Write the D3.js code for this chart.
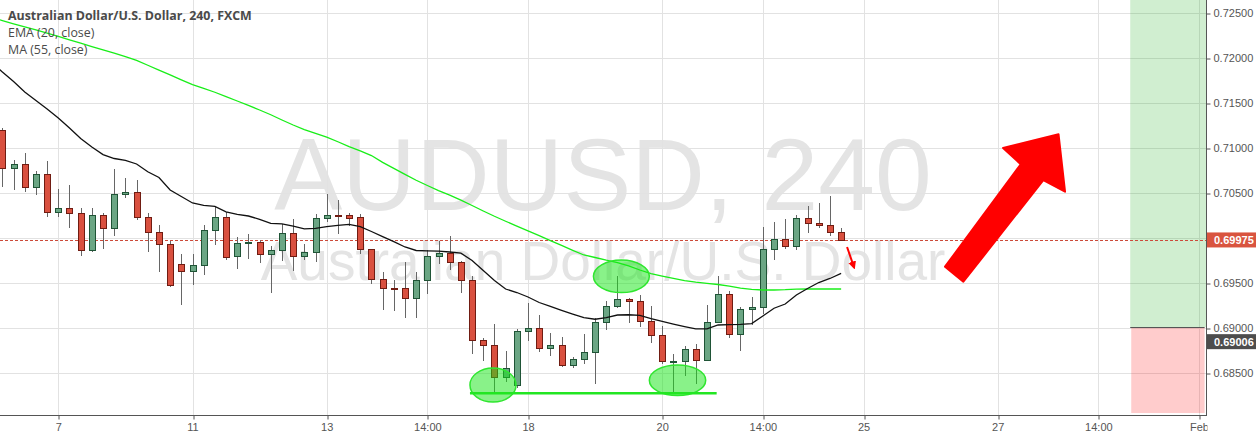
<!DOCTYPE html>
<html><head><meta charset="utf-8">
<script src="https://cdn.jsdelivr.net/npm/d3@7"></script>
<style>html,body{margin:0;padding:0;background:#fff;overflow:hidden}</style>
</head><body><svg id="c" width="1256" height="434"></svg>
<script>
// ---------- DATA ----------
const opens  = [0.71197,0.70771,0.70819,0.7056,0.70708,0.70282,0.70327,0.70271,0.6986,0.70249,0.70104,0.70482,0.70508,0.70227,0.7006,0.69927,0.69704,0.69627,0.69693,0.70082,0.7023,0.69793,0.69938,0.69952,0.69816,0.6986,0.70049,0.69793,0.69838,0.70216,0.70252,0.70252,0.70227,0.69871,0.69538,0.69441,0.69438,0.69327,0.69527,0.69793,0.69827,0.69727,0.69527,0.6886,0.68804,0.68449,0.6836,0.6896,0.68993,0.68771,0.68804,0.68582,0.68649,0.68727,0.6906,0.69238,0.69316,0.69293,0.69071,0.68916,0.68619,0.68627,0.6876,0.68638,0.6906,0.69371,0.68927,0.69204,0.69227,0.69871,0.69982,0.69904,0.70216,0.7016,0.70138,0.7006];
const highs  = [0.71219,0.70863,0.70941,0.70741,0.70852,0.70541,0.70586,0.70327,0.70327,0.70271,0.70763,0.70663,0.70641,0.70274,0.70141,0.69963,0.69819,0.69819,0.70141,0.70338,0.70289,0.70004,0.70041,0.69974,0.69904,0.70156,0.70208,0.69927,0.70267,0.70486,0.70416,0.70274,0.70263,0.69871,0.69622,0.6953,0.6973,0.69616,0.69863,0.6996,0.70019,0.69741,0.69578,0.68889,0.69038,0.68741,0.68986,0.69271,0.69138,0.68938,0.68897,0.68671,0.68927,0.69104,0.69297,0.69574,0.6933,0.6936,0.69238,0.69016,0.68704,0.68793,0.68824,0.6925,0.69574,0.69404,0.69227,0.69338,0.70116,0.70174,0.70208,0.70256,0.70352,0.70386,0.70463,0.70108];
const lows   = [0.70578,0.70541,0.70522,0.70489,0.70244,0.70244,0.70122,0.69811,0.69852,0.69889,0.70033,0.70456,0.70204,0.69856,0.69633,0.69463,0.69267,0.69489,0.696,0.69933,0.69763,0.69667,0.69778,0.69733,0.694,0.69756,0.69638,0.69767,0.69744,0.70186,0.70056,0.70141,0.69833,0.69493,0.69204,0.69197,0.69116,0.69122,0.69382,0.69719,0.69652,0.69393,0.68716,0.68644,0.68271,0.68411,0.68338,0.68863,0.68744,0.68697,0.68574,0.6856,0.68604,0.68389,0.68989,0.6923,0.69067,0.69016,0.68838,0.68604,0.68271,0.68471,0.68386,0.68638,0.6906,0.68897,0.68756,0.69038,0.6916,0.6976,0.69882,0.69871,0.70067,0.70116,0.70027,0.69975];
const closes = [0.70771,0.70819,0.7056,0.70708,0.70282,0.70327,0.70271,0.6986,0.70249,0.70104,0.70482,0.70508,0.70227,0.7006,0.69927,0.69471,0.69627,0.69693,0.70082,0.70227,0.69789,0.69938,0.69952,0.69816,0.6986,0.70049,0.69793,0.69838,0.70216,0.70249,0.70244,0.70222,0.69871,0.69538,0.69438,0.69433,0.69327,0.69527,0.69793,0.69827,0.69727,0.69527,0.6886,0.68804,0.68449,0.68549,0.6896,0.68993,0.68771,0.68804,0.68582,0.68649,0.68727,0.6906,0.69238,0.69316,0.69293,0.69071,0.68916,0.68627,0.68627,0.6876,0.68638,0.6906,0.69371,0.68927,0.69204,0.69227,0.69871,0.69982,0.69904,0.70216,0.7016,0.70138,0.7006,0.69975];
// indicator values, one per bar starting at bar index -1
const ema20 = [0.71952,0.71841,0.71736,0.71619,0.71524,0.7143,0.7133,0.71219,0.71102,0.71008,0.70924,0.7088,0.70858,0.70819,0.70733,0.70669,0.7053,0.70458,0.70386,0.7036,0.70347,0.70288,0.7026,0.70241,0.70204,0.7016,0.70154,0.70128,0.70097,0.70104,0.70124,0.70138,0.70147,0.70124,0.70069,0.70011,0.69956,0.69897,0.69858,0.69854,0.6985,0.69841,0.69828,0.69747,0.69636,0.69524,0.6943,0.69391,0.69341,0.6928,0.69236,0.69193,0.69152,0.69113,0.69094,0.69112,0.69141,0.69144,0.69136,0.69102,0.69071,0.69041,0.69013,0.68986,0.68988,0.6903,0.69034,0.69038,0.69046,0.6913,0.69216,0.69263,0.69363,0.69436,0.69502,0.69547,0.69604];
const ma55  = [0.72447,0.72412,0.72377,0.72342,0.72308,0.72272,0.72236,0.72199,0.72161,0.72124,0.72088,0.7205,0.72012,0.7197,0.71916,0.71863,0.71809,0.71754,0.717,0.7166,0.71616,0.71568,0.71519,0.7147,0.71419,0.71366,0.71308,0.71252,0.71201,0.71158,0.71118,0.71066,0.71011,0.70964,0.70913,0.70837,0.70771,0.70703,0.70638,0.7058,0.70524,0.70474,0.70418,0.70358,0.70297,0.70238,0.70183,0.70129,0.70076,0.70023,0.69968,0.69914,0.6986,0.69808,0.6978,0.6975,0.69723,0.69687,0.69641,0.69601,0.69574,0.69548,0.69523,0.69506,0.69492,0.6948,0.69463,0.69439,0.69426,0.69419,0.69419,0.69422,0.69428,0.6943,0.6943,0.6943,0.6943];
const priceTicks = [0.685,0.690,0.695,0.700,0.705,0.710,0.715,0.720,0.725];
const timeTickIdx = [5,17,29,38,47,59,68,77,89,98,107];
const timeTickLabels = ['7','11','13','14:00','18','20','14:00','25','27','14:00','Feb'];
const lastPrice = 0.69975;
const entryPrice = 0.69006, targetPrice = 0.7300, stopPrice = 0.68052;
const positionIdx = [100.85, 107.5];
const titleText = 'Australian Dollar/U.S. Dollar, 240, FXCM';
const studyTexts = ['EMA (20, close)', 'MA (55, close)'];
const watermark = ['AUDUSD, 240', 'Australian Dollar/U.S. Dollar'];
// drawings (bar index, price)
const ellipses = [[55.35,0.69571,2.5,0.00181],[43.87,0.68363,2.06,0.00189],[60.37,0.68416,2.52,0.0017]];
const neckline = [[41.81,0.68271],[63.87,0.68271]];
const bigArrow = [[84.29,0.69678],[91.06,0.70816],[89.48,0.70997],[94.44,0.71149],[95.02,0.70511],[93.08,0.70641],[85.93,0.69511]];
const smallArrow = [[75.53,0.69897],[76.1,0.69690]];

// ---------- LAYOUT ----------
const W = 1206, H = 415;
const svg = d3.select('#c');
const x = d3.scaleLinear().domain([5,107]).range([58.3,1199]);
const y = d3.scaleLinear().domain([0.685,0.725]).range([372.7,12.7]);
const crisp = v => Math.round(v) + 0.5;

const defs = svg.append('defs');
defs.append('clipPath').attr('id','plot')
  .append('rect').attr('x',0).attr('y',0).attr('width',W).attr('height',H);
defs.append('marker').attr('id','ah').attr('viewBox','0 0 10 10')
  .attr('refX',5).attr('refY',5).attr('markerWidth',8).attr('markerHeight',8)
  .attr('markerUnits','userSpaceOnUse').attr('orient','auto')
  .append('path').attr('d','M0,0L10,5L0,10z').attr('fill','#ff0000');
defs.append('clipPath').attr('id','xlab2')
  .append('rect').attr('x',-30).attr('y',0).attr('width',30+W+1-x(107)).attr('height',20);

const plot = svg.append('g').attr('clip-path','url(#plot)');

// watermark
plot.append('text').attr('x',W/2).attr('y',210).attr('text-anchor','middle')
  .attr('font-family','Liberation Sans, Arial, sans-serif').attr('font-size',102)
  .attr('fill','#e4e4e4').text(watermark[0]);
plot.append('text').attr('x',W/2).attr('y',280).attr('text-anchor','middle')
  .attr('font-family','Liberation Sans, Arial, sans-serif').attr('font-size',55)
  .attr('fill','#e4e4e4').text(watermark[1]);

// grid
plot.selectAll('.hg').data(priceTicks).join('line')
  .attr('x1',0).attr('x2',W).attr('y1',d=>crisp(y(d))).attr('y2',d=>crisp(y(d)))
  .attr('stroke','#e2e2e2');
plot.selectAll('.vg').data(timeTickIdx).join('line')
  .attr('y1',0).attr('y2',H).attr('x1',d=>crisp(x(d))).attr('x2',d=>crisp(x(d)))
  .attr('stroke','#e2e2e2');

// position tool zones
const px0 = x(positionIdx[0]), px1 = x(positionIdx[1]);
plot.append('rect').attr('x',px0).attr('width',W-px0)
  .attr('y',y(targetPrice)).attr('height',y(entryPrice)-y(targetPrice))
  .attr('fill','rgba(20,170,20,0.2)');
plot.append('rect').attr('x',px0+1).attr('width',px1-px0-1)
  .attr('y',y(entryPrice)).attr('height',y(stopPrice)-y(entryPrice))
  .attr('fill','rgba(255,0,0,0.2)');
plot.append('line').attr('x1',px0).attr('x2',px1)
  .attr('y1',crisp(y(entryPrice))).attr('y2',crisp(y(entryPrice)))
  .attr('stroke','#555');

// last price dashed line
plot.append('line').attr('x1',0).attr('x2',W)
  .attr('y1',crisp(y(lastPrice))).attr('y2',crisp(y(lastPrice)))
  .attr('stroke','#cc4a3a').attr('stroke-dasharray','3,2');

// candles
const bars = opens.map((o,i)=>({i,o,h:highs[i],l:lows[i],c:closes[i]}));
const cg = plot.append('g');
bars.forEach(b=>{
  const cx = Math.round(x(b.i));
  const up = b.c >= b.o;
  cg.append('line').attr('x1',cx+0.5).attr('x2',cx+0.5)
    .attr('y1',Math.round(y(b.h))).attr('y2',Math.round(y(b.l))+1).attr('stroke','#666');
  const t = Math.round(y(Math.max(b.o,b.c))), bt = Math.round(y(Math.min(b.o,b.c)));
  const hgt = Math.max(1, bt - t);
  cg.append('rect').attr('x',cx-2.5).attr('width',6).attr('y',t+0.5).attr('height',hgt)
    .attr('fill', up ? '#6ba684' : '#d9503f')
    .attr('stroke', up ? '#1f5436' : '#701c12').attr('stroke-width',1);
});

// indicators
const line = d3.line().x((d,i)=>x(i-1)).y(d=>y(d));
plot.append('path').datum(ma55).attr('d',line).attr('fill','none')
  .attr('stroke','#19ee19').attr('stroke-width',1.3);
plot.append('path').datum(ema20).attr('d',line).attr('fill','none')
  .attr('stroke','#111').attr('stroke-width',1.3);

// drawings
ellipses.forEach(e=>{
  plot.append('ellipse').attr('cx',x(e[0])).attr('cy',y(e[1]))
    .attr('rx',x(e[0]+e[2])-x(e[0])).attr('ry',y(e[1]-e[3])-y(e[1]))
    .attr('fill','rgba(20,230,20,0.5)').attr('stroke','#2fe62f').attr('stroke-width',1.5);
});
plot.append('line').attr('x1',x(neckline[0][0])).attr('x2',x(neckline[1][0]))
  .attr('y1',y(neckline[0][1])).attr('y2',y(neckline[1][1]))
  .attr('stroke','#22e622').attr('stroke-width',2.5);
plot.append('polygon').attr('points',bigArrow.map(p=>[x(p[0]),y(p[1])].join(',')).join(' '))
  .attr('fill','#ff0000').attr('stroke','#ff0000').attr('stroke-width',2).attr('stroke-linejoin','round');
plot.append('line').attr('x1',x(smallArrow[0][0])).attr('y1',y(smallArrow[0][1]))
  .attr('x2',x(smallArrow[1][0])).attr('y2',y(smallArrow[1][1]))
  .attr('stroke','#ff0000').attr('stroke-width',2).attr('marker-end','url(#ah)');

// axes
const axisFont = 'Liberation Sans, Arial, sans-serif';
const ra = svg.append('g').attr('transform',`translate(${W+0.5},0)`)
  .call(d3.axisRight(y).tickValues(priceTicks).tickFormat(d3.format('.5f')).tickSize(4).tickPadding(3));
ra.select('.domain').remove();
ra.selectAll('line').attr('stroke','#555').attr('transform',d=>`translate(0,${crisp(y(d))-y(d)})`);
ra.selectAll('text').attr('fill','#555').attr('font-size',11).attr('font-family',axisFont);

const ba = svg.append('g').attr('transform',`translate(0,${H+0.5})`)
  .call(d3.axisBottom(x).tickValues(timeTickIdx).tickFormat((d,i)=>timeTickLabels[i]).tickSize(4).tickPadding(4));
ba.select('.domain').remove();
ba.selectAll('line').attr('stroke','#555').attr('transform',d=>`translate(${crisp(x(d))-x(d)},0)`);
ba.selectAll('text').attr('fill','#555').attr('font-size',11).attr('font-family',axisFont);
ba.selectAll('.tick').filter((d,i)=>i===timeTickIdx.length-1).select('text')
  .attr('clip-path','url(#xlab2)');

svg.append('line').attr('x1',0).attr('x2',W+1).attr('y1',H+0.5).attr('y2',H+0.5).attr('stroke','#555');
svg.append('line').attr('x1',W+0.5).attr('x2',W+0.5).attr('y1',0).attr('y2',H+1).attr('stroke','#555');

// price labels
function priceLabel(v, cy, bg){
  svg.append('rect').attr('x',W+1).attr('y',cy-7.5).attr('width',1256-W-1).attr('height',15).attr('fill',bg);
  svg.append('text').attr('x',W+8).attr('y',cy).attr('dy','0.35em')
    .attr('font-family',axisFont).attr('font-size',11).attr('font-weight','bold')
    .attr('fill','#fff').text(d3.format('.5f')(v));
}
priceLabel(lastPrice, y(lastPrice), '#d9543f');
priceLabel(entryPrice, y(entryPrice)+14.5, '#4d4d4d');

// legend
const lg = svg.append('g').attr('font-family','Open Sans, sans-serif').attr('fill','#4a4a4a');
lg.append('text').attr('x',8).attr('y',20).attr('font-size',12.4).attr('font-weight','bold').text(titleText);
lg.append('text').attr('x',8).attr('y',37).attr('font-size',12.4).text(studyTexts[0]);
lg.append('text').attr('x',8).attr('y',54).attr('font-size',12.4).text(studyTexts[1]);
</script></body></html>
